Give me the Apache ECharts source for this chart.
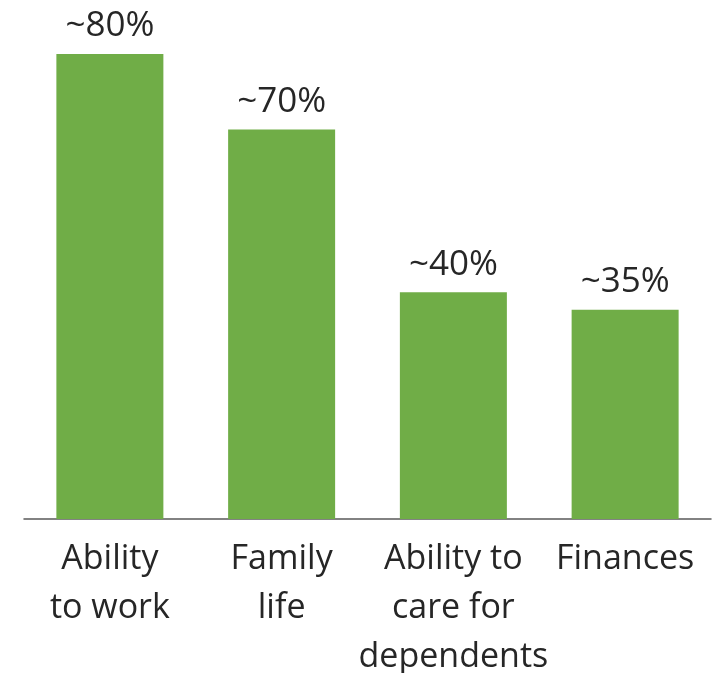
<!DOCTYPE html>
<html>
<head>
<meta charset="utf-8">
<script src="https://cdn.jsdelivr.net/npm/echarts@6/dist/echarts.min.js"></script>
<style>
html,body{margin:0;padding:0;background:#fff;}
#chart{width:720px;height:673px;}
</style>
</head>
<body>
<div id="chart"></div>
<script>
const categories = ["Ability\nto work", "Family\nlife", "Ability to\ncare for\ndependents", "Finances"];
const values = [80, 67, 39, 36];
const valueLabels = ["~80%", "~70%", "~40%", "~35%"];

const chart = echarts.init(document.getElementById('chart'));
chart.setOption({
  animation: false,
  grid: {left: 24, right: 9, top: 54, bottom: 154, containLabel: false, outerBoundsMode: 'none'},
  xAxis: {
    type: 'category',
    data: categories,
    axisLine: {lineStyle: {color: '#595959', width: 1.5}},
    axisTick: {show: false},
    axisLabel: {
      color: '#262626',
      fontFamily: 'Open Sans',
      fontSize: 34,
      lineHeight: 49,
      margin: 16,
      interval: 0
    }
  },
  yAxis: {
    type: 'value',
    min: 0,
    max: 80,
    show: false,
    splitLine: {show: false}
  },
  series: [{
    type: 'bar',
    data: values,
    barWidth: 107,
    itemStyle: {color: '#70AD47'},
    label: {
      show: true,
      position: 'top',
      distance: 10,
      color: '#262626',
      fontFamily: 'Open Sans',
      fontSize: 35,
      formatter: p => valueLabels[p.dataIndex]
    }
  }]
});
</script>
</body>
</html>
